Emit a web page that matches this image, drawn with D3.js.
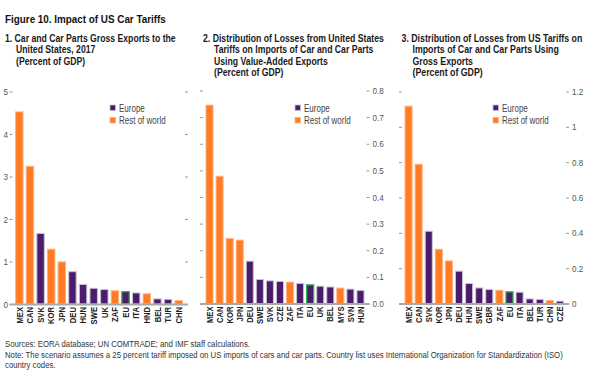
<!DOCTYPE html>
<html>
<head>
<meta charset="utf-8">
<script src="https://cdn.jsdelivr.net/npm/d3@7"></script>
<style>
  body { margin: 0; background: #fff; }
  svg text { font-family: 'Liberation Sans', Arial, sans-serif; }
</style>
</head>
<body>
<script>
// data
var cats1 = ["MEX","CAN","SVK","KOR","JPN","DEU","HUN","SWE","UK","ZAF","EU","ITA","HND","BEL","TUR","CHN"];
var vals1 = [4.52,3.24,1.66,1.29,0.99,0.76,0.46,0.37,0.34,0.31,0.29,0.26,0.24,0.12,0.11,0.08];

var cats2 = ["MEX","CAN","KOR","JPN","DEU","SWE","SVK","CZE","ZAF","ITA","EU","UK","BEL","MYS","SVN","HUN"];
var vals2 = [0.745,0.478,0.244,0.238,0.159,0.09,0.085,0.083,0.08,0.075,0.07,0.065,0.062,0.058,0.054,0.049];

var cats3 = ["MEX","CAN","SVK","KOR","JPN","DEU","HUN","SWE","GBR","ZAF","EU","ITA","BEL","TUR","CHN","CZE"];
var vals3 = [1.117,0.788,0.409,0.307,0.241,0.183,0.113,0.088,0.079,0.075,0.066,0.064,0.026,0.023,0.017,0.013];

// countries outside Europe
var restOfWorld = ["MEX","CAN","KOR","JPN","ZAF","HND","CHN","MYS"];

var ticks1 = [0,1,2,3,4,5];
var ticks2 = [0,0.1,0.2,0.3,0.4,0.5,0.6,0.7,0.8];
var ticks3 = [0,0.2,0.4,0.6,0.8,1,1.2];

var legendLabels = ["Europe","Rest of world"];

var title = "Figure 10. Impact of US Car Tariffs";
var sub1 = ["1. Car and Car Parts Gross Exports to the","United States, 2017","(Percent of GDP)"];
var sub2 = ["2. Distribution of Losses from United States","Tariffs on Imports of Car and Car Parts","Using Value-Added Exports","(Percent of GDP)"];
var sub3 = ["3. Distribution of Losses from US Tariffs on","Imports of Car and Car Parts Using","Gross Exports","(Percent of GDP)"];
var notes = ["Sources: EORA database; UN COMTRADE; and IMF staff calculations.",
  "Note: The scenario assumes a 25 percent tariff imposed on US imports of cars and car parts. Country list uses International Organization for Standardization (ISO)",
  "country codes."];

var purple = "#4b1c6c", orange = "#ff7c24";

var width = 600, height = 385;

// the source uses a condensed face, so squeeze the installed one
function condense(sel, ratio) {
    sel.each(function () {
        var w = this.getComputedTextLength();
        d3.select(this).attr("textLength", w * ratio).attr("lengthAdjust", "spacingAndGlyphs");
    });
}
// same idea for long lines, done with a horizontal scale
function squeeze(sel, ratio) {
    sel.each(function () {
        var s = d3.select(this);
        var x = +s.attr("x"), y = +s.attr("y");
        s.attr("x", 0).attr("y", 0)
         .attr("transform", "translate(" + x + "," + y + ") scale(" + ratio + ",1)");
    });
}
function squeezeTo(sel, node, target) {
    squeeze(sel, target / node.getComputedTextLength());
}

var svg = d3.select("body").append("svg")
    .attr("width", width)
    .attr("height", height);

svg.append("rect").attr("width", width).attr("height", height).attr("fill", "#fff");

var t = svg.append("text")
    .attr("x", 5).attr("y", 23)
    .attr("font-size", 11.5).attr("font-weight", "bold").attr("fill", "#111")
    .text(title);
squeezeTo(t, t.node(), 161);

function drawPanel(cfg) {
    var g = svg.append("g");

    // subtitle
    var subs = g.selectAll("text.sub")
        .data(cfg.sub)
        .enter().append("text")
        .attr("class", "sub")
        .attr("x", (d, i) => i == 0 ? cfg.tx : cfg.tx + 11)
        .attr("y", (d, i) => 41.5 + i * 11.5)
        .attr("font-size", 10.5).attr("font-weight", "bold").attr("fill", "#1a1a1a")
        .text(d => d);
    squeezeTo(subs, subs.node(), cfg.subW);

    var x = d3.scaleBand()
        .domain(cfg.cats)
        .range([cfg.x0 + 1.5, cfg.x1 - 1])
        .paddingInner(0.3)
        .paddingOuter(0.15);

    var y = d3.scaleLinear()
        .domain([0, cfg.max])
        .range([cfg.y0, cfg.yTop]);

    // left ticks
    var left = d3.axisLeft(y).tickValues(cfg.ticks).tickSize(3).tickPadding(1.5)
        .tickFormat(cfg.leftLabels ? cfg.fmt : "");
    var gl = g.append("g").attr("transform", "translate(" + cfg.x0 + ",0)").call(left);
    gl.select(".domain").remove();

    // right ticks
    var right = d3.axisRight(y).tickValues(cfg.ticks).tickSize(3).tickPadding(3)
        .tickFormat(cfg.leftLabels ? "" : cfg.fmt);
    var gr = g.append("g").attr("transform", "translate(" + cfg.x1 + ",0)").call(right);
    gr.select(".domain").remove();

    g.selectAll(".tick line").attr("stroke", "#9a9a9a");
    var tl = g.selectAll(".tick text").attr("fill", "#555").attr("font-size", 9.5)
        .style("font-family", "'Liberation Sans', Arial, sans-serif")
        .filter(function () { return this.textContent != ""; });
    condense(tl, 0.85);

    // bars
    g.selectAll("rect.bar")
        .data(cfg.cats)
        .enter().append("rect")
        .attr("class", "bar")
        .attr("x", d => x(d))
        .attr("y", (d, i) => y(cfg.vals[i]))
        .attr("width", x.bandwidth())
        .attr("height", (d, i) => cfg.y0 - y(cfg.vals[i]))
        .attr("fill", d => restOfWorld.indexOf(d) >= 0 ? orange : purple)
        .attr("stroke", d => d == "EU" ? "#2db34a" : (restOfWorld.indexOf(d) >= 0 ? "#ffb080" : "#c9c2d2"))
        .attr("stroke-width", d => d == "EU" ? 1.3 : 1);

    // baseline
    g.append("line")
        .attr("x1", cfg.x0 - 3).attr("x2", cfg.x1 + 3)
        .attr("y1", cfg.y0 + 0.5).attr("y2", cfg.y0 + 0.5)
        .attr("stroke", "#a8a8a8").attr("stroke-width", 2);

    // category labels
    var cl = g.selectAll("text.cat")
        .data(cfg.cats)
        .enter().append("text")
        .attr("class", "cat")
        .attr("transform", d => "translate(" + (x(d) + x.bandwidth() / 2 + 3.2) + "," + (cfg.y0 + 3) + ") rotate(-90)")
        .attr("text-anchor", "end")
        .attr("font-size", 9).attr("font-weight", "bold").attr("fill", "#222")
        .text(d => d);
    condense(cl, 0.85);

    // legend
    var lg = g.append("g").attr("transform", "translate(" + cfg.lx + ",105)");
    lg.selectAll("rect")
        .data(legendLabels)
        .enter().append("rect")
        .attr("x", 0).attr("y", (d, i) => i * 12.5)
        .attr("width", 5.5).attr("height", 5.5)
        .attr("fill", (d, i) => i == 0 ? purple : orange)
        .attr("stroke", (d, i) => i == 0 ? "#c9c2d2" : "#ffb080").attr("stroke-width", 0.8);
    var lt = lg.selectAll("text")
        .data(legendLabels)
        .enter().append("text")
        .attr("x", 9).attr("y", (d, i) => 6.5 + i * 12.5)
        .attr("font-size", 10).attr("fill", "#444")
        .text(d => d);
    condense(lt, 0.8);
}

drawPanel({ cats: cats1, vals: vals1, ticks: ticks1, max: 5, fmt: d3.format("d"),
    x0: 12.5, x1: 185, y0: 304, yTop: 91.5, leftLabels: true, tx: 5, sub: sub1, subW: 171, lx: 110 });
drawPanel({ cats: cats2, vals: vals2, ticks: ticks2, max: 0.8, fmt: d3.format(".1f"),
    x0: 203, x1: 366.5, y0: 303.5, yTop: 90.5, leftLabels: false, tx: 203, sub: sub2, subW: 181, lx: 295 });
drawPanel({ cats: cats3, vals: vals3, ticks: ticks3, max: 1.2, fmt: d => d3.format("~g")(d),
    x0: 402, x1: 566, y0: 303.5, yTop: 91.5, leftLabels: false, tx: 401.5, sub: sub3, subW: 181, lx: 493 });

// footnotes
var nt = svg.selectAll("text.note")
    .data(notes)
    .enter().append("text")
    .attr("class", "note")
    .attr("x", 5)
    .attr("y", (d, i) => 347 + i * 10.5)
    .attr("font-size", 8.6).attr("fill", "#333")
    .text(d => d);
squeezeTo(nt, nt.nodes()[1], 558);
</script>
</body>
</html>
